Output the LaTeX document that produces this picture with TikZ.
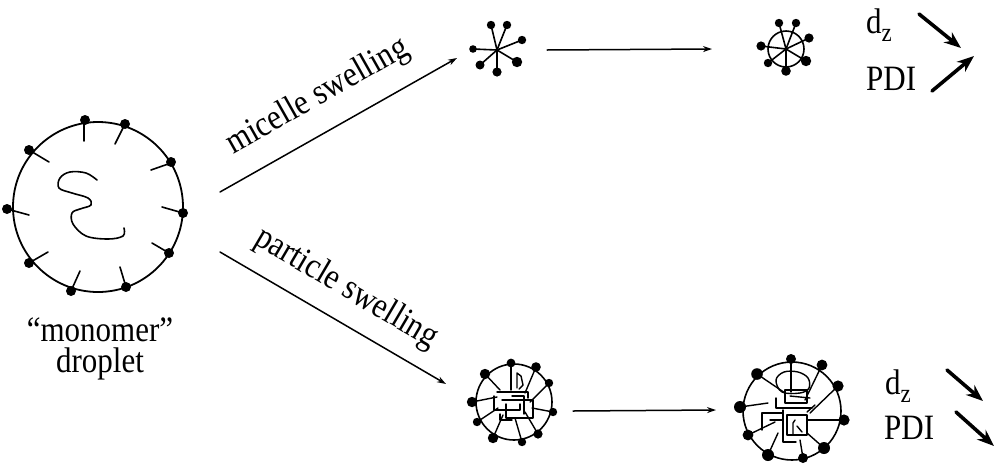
\documentclass[tikz,border=0pt]{standalone}
\usepackage{fontspec}
\setmainfont{Liberation Serif}
\usepackage{graphicx}
\usetikzlibrary{arrows.meta}
\newcommand\stretchtxt[1]{\scalebox{1}[1.15]{#1}}
\newcommand\dzlabel{d\raisebox{-7pt}{\fontsize{23}{23}\selectfont z}}
\begin{document}
\begin{tikzpicture}[x=1pt,y=-1pt,line join=round,line cap=round,
  thinline/.style={line width=1.6pt},
  shell/.style={line width=1.8pt},
  chain/.style={line width=1.4pt},
  lbl/.style={inner sep=0pt,font=\fontsize{31}{31}\selectfont},
  flow/.style={line width=1.5pt,-{Stealth[length=9pt,width=6pt]}},
  trend/.style={line width=3.6pt,-{Stealth[length=17pt,width=13pt]}}]
\useasboundingbox (0,0) rectangle (1000,464);

% ---------- monomer droplet ----------
\coordinate (drop) at (98,207);
\draw[shell] (drop) circle (85pt);
\foreach \x/\y in {85/120,125/124,171/162,183/213,169/253,126/287,71/291,29/263,7/209,29/150}
  \fill (\x,\y) circle (5pt);
\draw[thinline] (84,123)--(84,141);
\draw[thinline] (124,126)--(115,144);
\draw[thinline] (29,150)--(49,162);
\draw[thinline] (171,163)--(151,170);
\draw[thinline] (183,213)--(162,207);
\draw[thinline] (169,253)--(152,243);
\draw[thinline] (126,287)--(120,267);
\draw[thinline] (71,291)--(80,271);
\draw[thinline] (29,263)--(48,252);
\draw[thinline] (7,209)--(29,215);
\draw[thinline] plot[smooth,tension=0.6] coordinates {(97,180)(86,173)(70,172)(60,178)(59,188)(72,193)(88,198)(91,205)(80,209)(72,213)(73,224)(86,236)(108,239)(123,236)(124,228)};
\node[lbl,anchor=base] (monolbl) at (100,341) {\stretchtxt{``monomer''}};
\node[lbl,anchor=base] (droplbl) at (100,372) {\stretchtxt{droplet}};

% ---------- branch arrows ----------
\coordinate (a1s) at (220,192);
\coordinate (a1e) at (457,58);
\coordinate (a2s) at (220,252);
\coordinate (a2e) at (446,384);
\draw[flow] (a1s) -- (a1e);
\draw[flow] (a2s) -- (a2e);
\node[lbl,anchor=base,rotate=29.5] (micl) at (322,104) {\stretchtxt{micelle swelling}};
\node[lbl,anchor=base,rotate=-30.5] (partl) at (342,296) {\stretchtxt{particle swelling}};

% ---------- star micelle ----------
\coordinate (star) at (497,50);
\foreach \x/\y/\r in {491/25/4.2,507/25/4.2,522/40/4.2,473/49/3.8,480/65/4.5,497/72/4.6,517/62/5.2}{
  \draw[thinline] (star) -- (\x,\y);
  \fill (\x,\y) circle (\r pt);
}
\coordinate (h1s) at (547,50);
\coordinate (h1e) at (712,49);
\draw[flow] (h1s) -- (h1e);

% ---------- swollen micelle ----------
\coordinate (mic) at (786,49);
\draw[thinline] (mic) circle (18pt);
\foreach \x/\y/\r in {779/23/4.2,796/23/4.2,809/38/4.6,761/46/4.6,768/63/4.2,786/71/4.8,806/61/5.2}{
  \draw[thinline] (mic) -- (\x,\y);
  \fill (\x,\y) circle (\r pt);
}

% ---------- latex particle ----------
\coordinate (part) at (514,402);
\draw[thinline] (part) circle (38pt);
\foreach \x/\y/\r in {511/363/4.4,536/367/4.8,549/383/4.2,553/412/4.2,538/434/4.6,522/442/4.2,493/438/5.2,477/422/4.2,472/402/5.2,485/374/5.2}
  \fill (\x,\y) circle (\r pt);
\draw[chain] (485,374)--(500,390);
\draw[chain] (472,402)--(497,397);
\draw[chain] (477,422)--(498,408);
\draw[chain] (493,438)--(503,415);
\draw[chain] (522,442)--(515,418);
\draw[chain] (538,434)--(525,412);
\draw[chain] (553,412)--(532,408);
\draw[chain] (549,383)--(530,402);
\draw[chain] (536,367)--(525,393);
\draw[chain] (511,363)--(511,390);
\draw[chain] (517,388)--(517,373)--(521,376)--(523,385)--(519,389);
\draw[chain] (497,392)--(528,392)--(528,398);
\draw[chain] (494,396)--(494,410)--(520,410)--(520,404);
\draw[chain] (502,400)--(533,400)--(533,418)--(506,418)--(506,404);
\draw[chain] (500,414)--(500,420)--(512,420);
\draw[chain] (512,396)--(524,396)--(524,414);
\coordinate (h2s) at (573,411);
\coordinate (h2e) at (716,410);
\draw[flow] (h2s) -- (h2e);

% ---------- swollen particle ----------
\coordinate (big) at (792,411);
\draw[thinline] (big) circle (49pt);
\foreach \x/\y/\r in {791/359/5,822/365/5.4,838/386/5.6,844/420/5.6,824/448/6,803/458/5,768/455/6,748/435/5.4,740/407/6,757/374/5.8}
  \fill (\x,\y) circle (\r pt);
\draw[chain] (757,374)--(785,393);
\draw[chain] (740,407)--(768,403);
\draw[chain] (748,435)--(775,422);
\draw[chain] (768,455)--(778,433);
\draw[chain] (803,458)--(800,440);
\draw[chain] (824,448)--(807,433);
\draw[chain] (844,420)--(807,420);
\draw[chain] (838,386)--(810,413);
\draw[chain] (822,365)--(805,400);
\draw[chain] (791,359)--(791,392);
\draw[chain] plot[smooth cycle,tension=0.6] coordinates {(776,380)(784,372)(798,372)(808,378)(809,388)(800,393)(782,392)};
\draw[chain] (785,390) rectangle (807,403);
\draw[chain] (776,398)--(776,408)--(812,408);
\draw[chain] (790,396)--(810,398);
\draw[line width=2pt] (787,415) rectangle (807,435);
\draw[chain] (795,420)--(793,423)--(793,434);
\draw[chain] (797,426)--(802,432);
\draw[chain] (762,430)--(762,413)--(783,413);
\draw[chain] (783,410)--(783,442)--(796,442);
\draw[chain] (770,420)--(783,420);
\draw[chain] (807,412)--(815,405);

% ---------- trend labels ----------
\node[lbl,anchor=base west] (dz1) at (866,33) {\stretchtxt{\dzlabel}};
\node[lbl,anchor=base west] (pdi1) at (866,90) {\stretchtxt{PDI}};
\coordinate (t1s) at (919,14);
\coordinate (t1e) at (961,48);
\coordinate (t2s) at (932,91);
\coordinate (t2e) at (974,56);
\draw[trend] (t1s) -- (t1e);
\draw[trend] (t2s) -- (t2e);

\node[lbl,anchor=base west] (dz2) at (885,394) {\stretchtxt{\dzlabel}};
\node[lbl,anchor=base west] (pdi2) at (884,439) {\stretchtxt{PDI}};
\coordinate (t3s) at (947,370);
\coordinate (t3e) at (983,401);
\coordinate (t4s) at (956,412);
\coordinate (t4e) at (994,446);
\draw[trend] (t3s) -- (t3e);
\draw[trend] (t4s) -- (t4e);
\end{tikzpicture}
\end{document}
